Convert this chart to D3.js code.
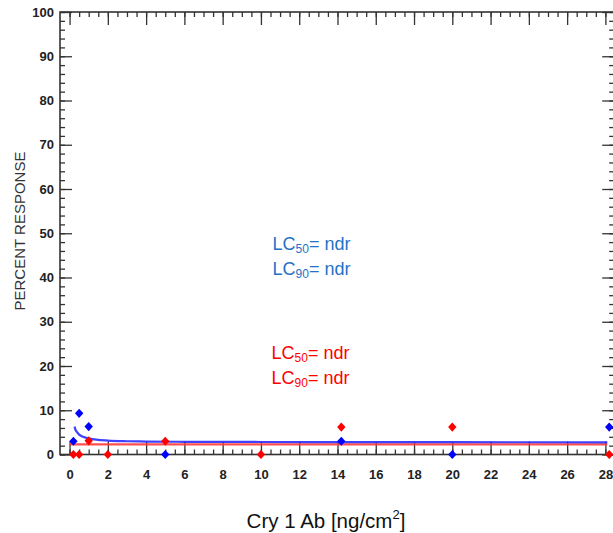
<!DOCTYPE html>
<html>
<head>
<meta charset="utf-8">
<script src="https://cdn.jsdelivr.net/npm/d3@7"></script>
<style>
  html, body { margin: 0; padding: 0; background: #fff; }
  svg { display: block; font-family: "Liberation Sans", Arial, sans-serif; }
</style>
</head>
<body>
<svg id="chart" width="613" height="533"></svg>
<script>
// ---- data ----
const blueX = [0.2, 0.5, 1, 5, 14.2, 20, 28.2];
const blueY = [3, 9.3, 6.3, 0, 3, 0, 6.2];
const redX = [0.2, 0.5, 1, 2, 5, 10, 14.2, 20, 28.2];
const redY = [0, 0, 3.1, 0, 3, 0, 6.2, 6.2, 0];
const blueFitX = [0.26, 0.3, 0.4, 0.5, 0.7, 1, 1.4, 2, 3, 4, 6, 10, 15, 20, 28.1];
const blueFitY = [6.3, 5.7, 5.0, 4.5, 4.0, 3.65, 3.35, 3.15, 3.0, 2.93, 2.87, 2.83, 2.8, 2.78, 2.75];
const redFitX = [0.02, 28.1];
const redFitY = [2.3, 2.3];
const xMajorTicks = d3.range(0, 29, 2);
const xMinorTicks = d3.range(0, 28.01, 0.5);
const yMajorTicks = d3.range(0, 101, 10);
const yMinorTicks = d3.range(0, 101, 2);
const blueLabels = ["50", "90"];
const redLabels = ["50", "90"];

// ---- layout ----
const L = 60, R = 614.2, T = 12, B = 454.5;
const svg = d3.select("#chart");
const x = d3.scaleLinear().domain([-0.5, 28.46]).range([L, R]);
const y = d3.scaleLinear().domain([0, 100]).range([B, T]);
const axisColor = "#333";

function styleAxis(g) {
  g.select(".domain").remove();
  g.selectAll(".tick line").attr("stroke", axisColor).attr("stroke-width", 1.3);
  g.selectAll(".tick text").attr("fill", "#222").attr("font-size", 13).attr("font-weight", "bold")
    .attr("font-family", "'Liberation Sans', Arial, sans-serif");
}

// minor ticks
svg.append("g").attr("transform", `translate(0,${B})`)
  .call(d3.axisBottom(x).tickValues(xMinorTicks).tickSize(-5).tickFormat("")).call(styleAxis);
svg.append("g").attr("transform", `translate(0,${T})`)
  .call(d3.axisTop(x).tickValues(xMinorTicks).tickSize(-5).tickFormat("")).call(styleAxis);
svg.append("g").attr("transform", `translate(${L},0)`)
  .call(d3.axisLeft(y).tickValues(yMinorTicks).tickSize(-5).tickFormat("")).call(styleAxis);
svg.append("g").attr("transform", `translate(${R},0)`)
  .call(d3.axisRight(y).tickValues(yMinorTicks).tickSize(-5).tickFormat("")).call(styleAxis);

// major ticks
svg.append("g").attr("transform", `translate(0,${B})`)
  .call(d3.axisBottom(x).tickValues(xMajorTicks).tickSize(-13).tickPadding(15).tickFormat(d3.format("d"))).call(styleAxis);
svg.append("g").attr("transform", `translate(0,${T})`)
  .call(d3.axisTop(x).tickValues(xMajorTicks).tickSize(-13).tickFormat("")).call(styleAxis);
svg.append("g").attr("transform", `translate(${L},0)`)
  .call(d3.axisLeft(y).tickValues(yMajorTicks).tickSize(-12).tickPadding(6).tickFormat(d3.format("d"))).call(styleAxis);
svg.append("g").attr("transform", `translate(${R},0)`)
  .call(d3.axisRight(y).tickValues(yMajorTicks).tickSize(-12).tickFormat("")).call(styleAxis);

// frame
svg.append("rect").attr("x", L).attr("y", T).attr("width", R - L).attr("height", B - T)
  .attr("fill", "none").attr("stroke", axisColor).attr("stroke-width", 1.6);

// fitted lines
const line = d3.line().x(d => x(d[0])).y(d => y(d[1])).curve(d3.curveMonotoneX);
svg.append("path").datum(redFitX.map((v, i) => [v, redFitY[i]]))
  .attr("d", line).attr("fill", "none").attr("stroke", "#ff3b3b").attr("stroke-width", 2.2).attr("opacity", 0.9);
svg.append("path").datum(blueFitX.map((v, i) => [v, blueFitY[i]]))
  .attr("d", line).attr("fill", "none").attr("stroke", "#2b2bff").attr("stroke-width", 2.2).attr("opacity", 0.9);

// diamonds
const diamond = "M0,-4.6L4.2,0L0,4.6L-4.2,0Z";
svg.append("g").selectAll("path").data(blueX.map((v, i) => [v, blueY[i]])).join("path")
  .attr("d", diamond).attr("transform", d => `translate(${x(d[0])},${y(d[1])})`).attr("fill", "#0000ff");
svg.append("g").selectAll("path").data(redX.map((v, i) => [v, redY[i]])).join("path")
  .attr("d", diamond).attr("transform", d => `translate(${x(d[0])},${y(d[1])})`).attr("fill", "#ff0000");

// annotations
function lcText(xp, yp, sub, color) {
  const t = svg.append("text").attr("x", xp).attr("y", yp).attr("fill", color).attr("font-size", 18);
  t.append("tspan").text("LC");
  t.append("tspan").attr("font-size", 12).attr("dy", 3).text(sub);
  t.append("tspan").attr("dy", -3).text("= ndr");
}
lcText(272.5, 249.5, blueLabels[0], "#1f72c4");
lcText(272.5, 275, blueLabels[1], "#1f72c4");
lcText(271.5, 358.5, redLabels[0], "#ff0000");
lcText(271.5, 384, redLabels[1], "#ff0000");

// axis titles
svg.append("text").attr("transform", `translate(24.5,231) rotate(-90)`).attr("text-anchor", "middle")
  .attr("font-size", 15).attr("fill", "#333").text("PERCENT RESPONSE");
const xt = svg.append("text").attr("x", 326).attr("y", 528).attr("text-anchor", "middle")
  .attr("font-size", 20.5).attr("fill", "#111");
xt.append("tspan").text("Cry 1 Ab [ng/cm");
xt.append("tspan").attr("font-size", 13).attr("dy", -9).text("2");
xt.append("tspan").attr("dy", 9).text("]");
</script>
</body>
</html>
